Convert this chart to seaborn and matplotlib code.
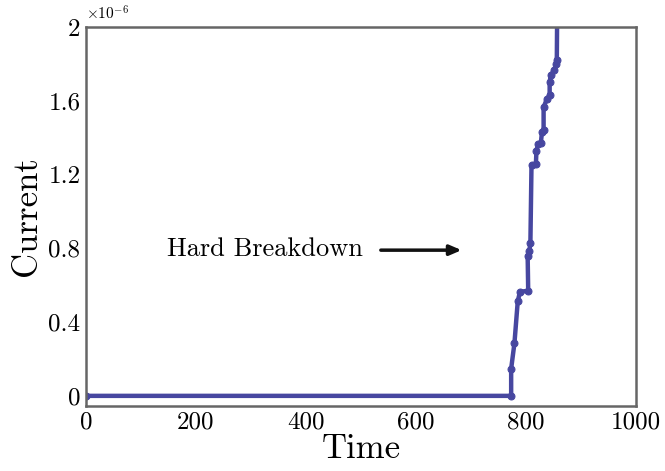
import matplotlib
matplotlib.use("Agg")
import matplotlib.pyplot as plt
import seaborn as sns
import pandas as pd
import numpy as np

# Data (current in A, time in arbitrary units)
time = [0, 773, 773, 779, 785, 789, 804, 803, 806, 808, 810, 818, 819, 822,
        827, 829, 832, 832, 838, 843, 843, 845, 851, 855, 856, 857]
current_u = [0, 0, 0.147, 0.286, 0.513, 0.564, 0.57, 0.758, 0.785, 0.83, 1.253,
             1.257, 1.33, 1.366, 1.371, 1.43, 1.44, 1.565, 1.61, 1.63, 1.70, 1.738,
             1.765, 1.80, 1.82, 2.2]
current = [v * 1e-6 for v in current_u]
xticks = [0, 200, 400, 600, 800, 1000]
yticks_u = [0, 0.4, 0.8, 1.2, 1.6, 2]
ytick_labels = ["0", "0.4", "0.8", "1.2", "1.6", "2"]

sns.set_style("white")
plt.rcParams["font.family"] = ["cmr10", "DejaVu Serif"]
plt.rcParams["mathtext.fontset"] = "cm"
plt.rcParams["axes.formatter.use_mathtext"] = True
plt.rcParams["text.color"] = "black"
plt.rcParams["axes.labelcolor"] = "black"

df = pd.DataFrame({"Time": time, "Current": current})

fig = plt.figure(figsize=(6.65, 4.71), dpi=100)
ax = fig.add_axes([0.1293, 0.138, 0.9564 - 0.1293, 0.9427 - 0.138])

color = "#4747a0"
sns.lineplot(data=df, x="Time", y="Current", ax=ax, estimator=None, sort=False,
             color=color, linewidth=3.2, marker="o", markersize=5,
             markeredgecolor=color, markerfacecolor=color)

ax.set_xlim(0, 1000)
ax.set_ylim(-0.055e-6, 2e-6)
ax.set_xticks(xticks)
ax.set_xticklabels([str(t) for t in xticks], fontsize=18)
ax.set_yticks([v * 1e-6 for v in yticks_u])
ax.set_yticklabels(ytick_labels, fontsize=18)
ax.tick_params(axis="x", direction="in", length=5, width=1.2, colors=color,
               labelcolor="black", pad=4)
ax.tick_params(axis="y", direction="in", length=4, width=1, colors="#666666",
               labelcolor="black", pad=4)

for s in ax.spines.values():
    s.set_color("#666666")
    s.set_linewidth(1.8)

ax.set_xlabel("Time", fontsize=25, labelpad=0)
ax.set_ylabel("Current", fontsize=25, labelpad=4)

ax.text(0.0, 1.012, r"$\times10^{-6}$", transform=ax.transAxes, fontsize=11,
        ha="left", va="bottom")

ax.annotate("", xy=(688, 0.79e-6), xytext=(531, 0.79e-6),
            arrowprops=dict(arrowstyle="-|>,head_length=0.7,head_width=0.3",
                            color="#111111", lw=2.5))
ax.text(148, 0.795e-6, "Hard Breakdown", fontsize=19, ha="left", va="center")

fig.savefig("out.png", dpi=100)
